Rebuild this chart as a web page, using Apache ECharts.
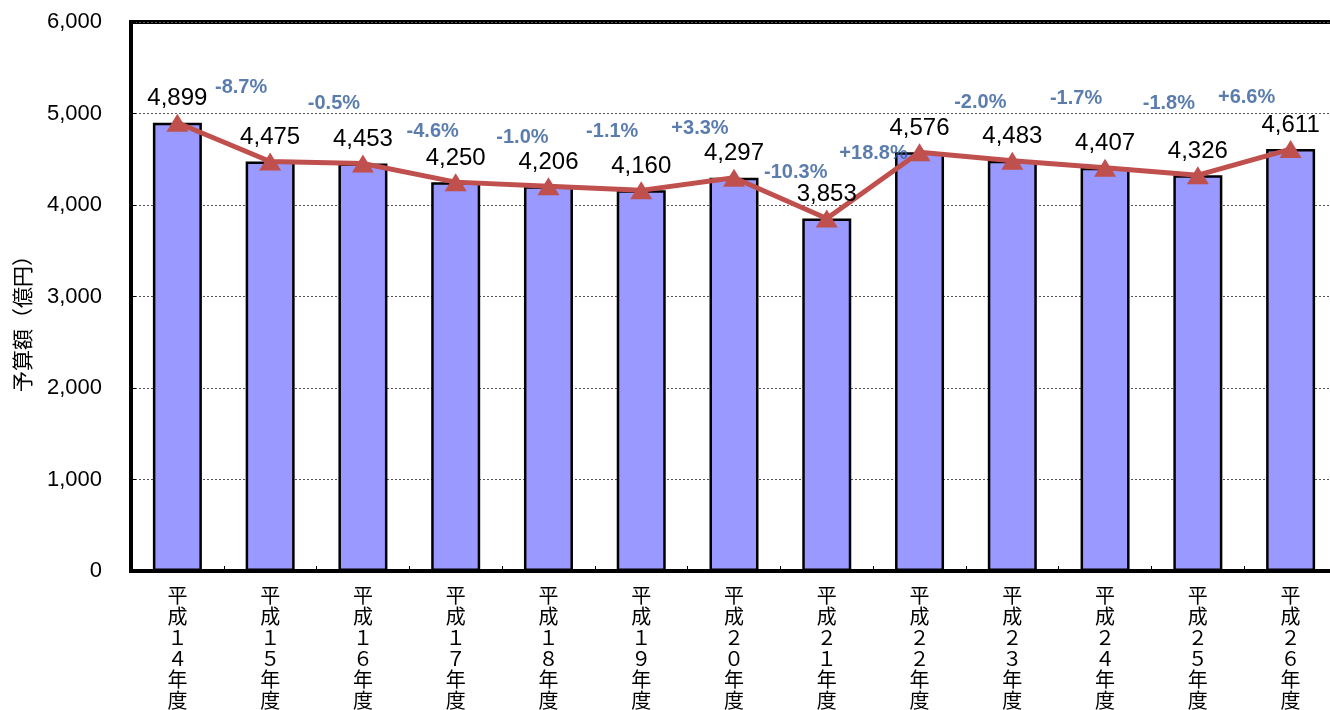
<!DOCTYPE html>
<html><head><meta charset="utf-8">
<script src="https://cdn.jsdelivr.net/npm/echarts@6/dist/echarts.min.js"></script>
<style>html,body{margin:0;padding:0;background:#fff}#c{width:1330px;height:710px}</style>
</head><body><div id="c"></div>
<script>
const categories = ['平成１４年度','平成１５年度','平成１６年度','平成１７年度','平成１８年度','平成１９年度','平成２０年度','平成２１年度','平成２２年度','平成２３年度','平成２４年度','平成２５年度','平成２６年度'];
const budget = [4899, 4475, 4453, 4250, 4206, 4160, 4297, 3853, 4576, 4483, 4407, 4326, 4611];
const changeLabels = ['', '-8.7%', '-0.5%', '-4.6%', '-1.0%', '-1.1%', '+3.3%', '-10.3%', '+18.8%', '-2.0%', '-1.7%', '-1.8%', '+6.6%'];
const yTicks = [0, 1000, 2000, 3000, 4000, 5000, 6000];

// label placement (layout only)
const changeOffsets = [[0,0],[-29,-74],[-29,-60],[-23,-51],[-26,-49],[-29,-59],[-34,-49],[-31,-46],[-46,1],[-32,-58],[-29,-69],[-29,-72],[-44,-52]];

const FONT = "'Liberation Sans', 'Noto Sans CJK JP', sans-serif";
const chart = echarts.init(document.getElementById('c'), null, {renderer: 'canvas'});
chart.setOption({
  animation: false,
  grid: {left: 131, top: 22, right: -7, bottom: 139, outerBoundsMode: 'none', containLabel: false,
    show: true, borderColor: '#000', borderWidth: 4, backgroundColor: 'transparent'},
  xAxis: {
    type: 'category', data: categories,
    axisLine: {lineStyle: {color: '#000', width: 4}},
    axisTick: {show: true, inside: true, length: 5, lineStyle: {color: '#000', width: 1}},
    axisLabel: {
      interval: 0, margin: 14, color: '#000', fontSize: 20, lineHeight: 21,
      fontFamily: "'Noto Sans CJK JP', sans-serif",
      formatter: v => v.split('').join('\n')
    }
  },
  yAxis: {
    type: 'value', min: yTicks[0], max: yTicks[yTicks.length-1], interval: 1000,
    name: '予算額（億円）', nameLocation: 'middle', nameRotate: 90, nameGap: 98,
    nameTextStyle: {fontSize: 21, color: '#000', fontFamily: "'Noto Sans CJK JP', sans-serif", padding: [0, 44, 0, 0]},
    axisLine: {show: true, lineStyle: {color: '#000', width: 4}},
    axisTick: {show: true, inside: true, length: 5, lineStyle: {color: '#000', width: 1}},
    axisLabel: {margin: 29, color: '#000', fontSize: 22, fontFamily: FONT,
      formatter: v => v.toLocaleString('en-US')},
    splitLine: {show: true, lineStyle: {color: '#555', width: 1, type: [2, 2]}}
  },
  series: [
    {
      type: 'bar', data: budget, barWidth: 49,
      itemStyle: {color: '#9999FF', borderColor: '#000', borderWidth: 2.5},
      z: 2
    },
    {
      type: 'line', data: budget,
      symbol: 'triangle', symbolSize: [22, 18],
      lineStyle: {color: '#C0504D', width: 5},
      itemStyle: {color: '#C0504D'},
      label: {show: true, position: 'top', distance: 3, color: '#000', fontSize: 24, fontFamily: FONT,
        formatter: p => p.value.toLocaleString('en-US')},
      z: 3
    },
    {
      type: 'scatter', symbolSize: 1, itemStyle: {color: 'rgba(0,0,0,0)'},
      data: budget.map((v, i) => changeLabels[i] ? {
        value: v,
        label: {show: true, position: 'inside', offset: changeOffsets[i], formatter: changeLabels[i]}
      } : {value: '-'}),
      label: {color: '#325D9A', fontSize: 20, fontWeight: 'bold', fontFamily: FONT},
      z: 4
    }
  ]
});
</script></body></html>
